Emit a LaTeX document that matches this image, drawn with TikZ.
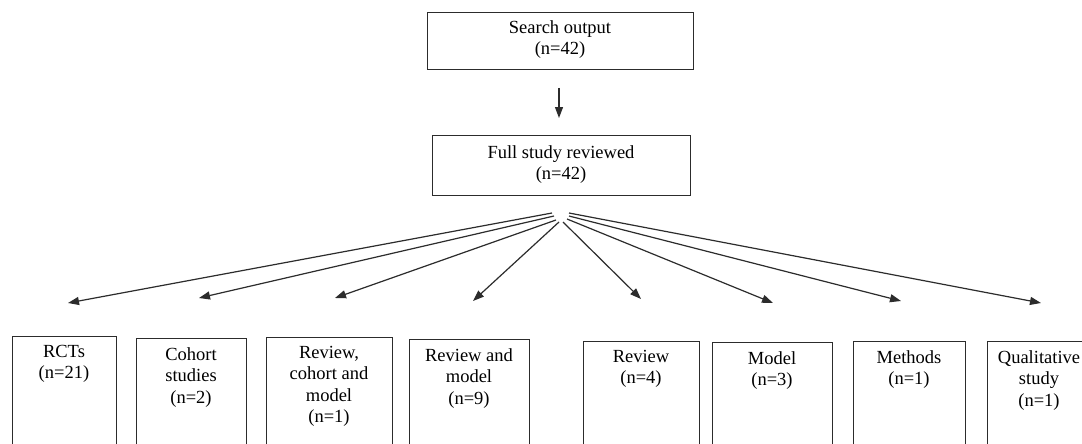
\documentclass[tikz,border=0pt]{standalone}
\usepackage{fontspec}
\setmainfont{Liberation Serif}
\usetikzlibrary{arrows.meta}
\definecolor{ln}{HTML}{2C2C2C}
\tikzset{
  box/.style={draw=ln, line width=1.4pt, rectangle, inner sep=0pt, anchor=north west},
  txt/.style={font=\fontsize{18.5}{21.5}\selectfont, align=center, inner sep=0pt, anchor=north, text=black},
  arr/.style={draw=ln, line width=1.2pt, -{Triangle[length=11pt,width=8pt]}},
}
\begin{document}
\begin{tikzpicture}[x=1pt,y=-1pt]
\useasboundingbox (0,0) rectangle (1082,444);
\fill[white] (0,0) rectangle (1082,444);
\begin{scope}
\clip (-1,-1) rectangle (1082,444);
% top boxes
\node[box, minimum width=266pt, minimum height=57pt] (search) at (427,12) {};
\node[txt] (searcht) at (560,20) {Search output\\(n=42)};
\node[box, minimum width=258pt, minimum height=60pt] (full) at (432,135) {};
\node[txt] (fullt) at (561,145) {Full study reviewed\\(n=42)};
\coordinate (v1) at (559,88);
\coordinate (v2) at (559,118);
\draw[arr] (v1) -- (v2);
% bottom boxes
\node[box, minimum width=104pt, minimum height=150pt] (b1) at (12,336) {};
\node[txt] (t1) at (64,345) {RCTs\\(n=21)};
\node[box, minimum width=110pt, minimum height=150pt] (b2) at (136,338) {};
\node[txt] (t2) at (191,347) {Cohort\\studies\\(n=2)};
\node[box, minimum width=126pt, minimum height=150pt] (b3) at (266,337) {};
\node[txt] (t3) at (329,346) {Review,\\cohort and\\model\\(n=1)};
\node[box, minimum width=120pt, minimum height=150pt] (b4) at (409,339) {};
\node[txt] (t4) at (469,348) {Review and\\model\\(n=9)};
\node[box, minimum width=116pt, minimum height=150pt] (b5) at (583,341) {};
\node[txt] (t5) at (641,350) {Review\\(n=4)};
\node[box, minimum width=120pt, minimum height=150pt] (b6) at (712,342) {};
\node[txt] (t6) at (772,351) {Model\\(n=3)};
\node[box, minimum width=112pt, minimum height=150pt] (b7) at (853,341) {};
\node[txt] (t7) at (909,350) {Methods\\(n=1)};
\node[box, minimum width=140pt, minimum height=150pt] (b8) at (987,341) {};
\node[txt] (t8) at (1039,350) {Qualitative\\study\\(n=1)};
% fan
\coordinate (s1) at (552,213); \coordinate (e1) at (68,303);
\coordinate (s2) at (554,216); \coordinate (e2) at (199,298);
\coordinate (s3) at (556,220); \coordinate (e3) at (335,298);
\coordinate (s4) at (559,222); \coordinate (e4) at (473,301);
\coordinate (s5) at (563,222); \coordinate (e5) at (641,299);
\coordinate (s6) at (567,219); \coordinate (e6) at (773,303);
\coordinate (s7) at (569,216); \coordinate (e7) at (901,301);
\coordinate (s8) at (569,213); \coordinate (e8) at (1041,303);
\foreach \i in {1,...,8} {\draw[arr] (s\i) -- (e\i);}
\end{scope}
\end{tikzpicture}
\end{document}
